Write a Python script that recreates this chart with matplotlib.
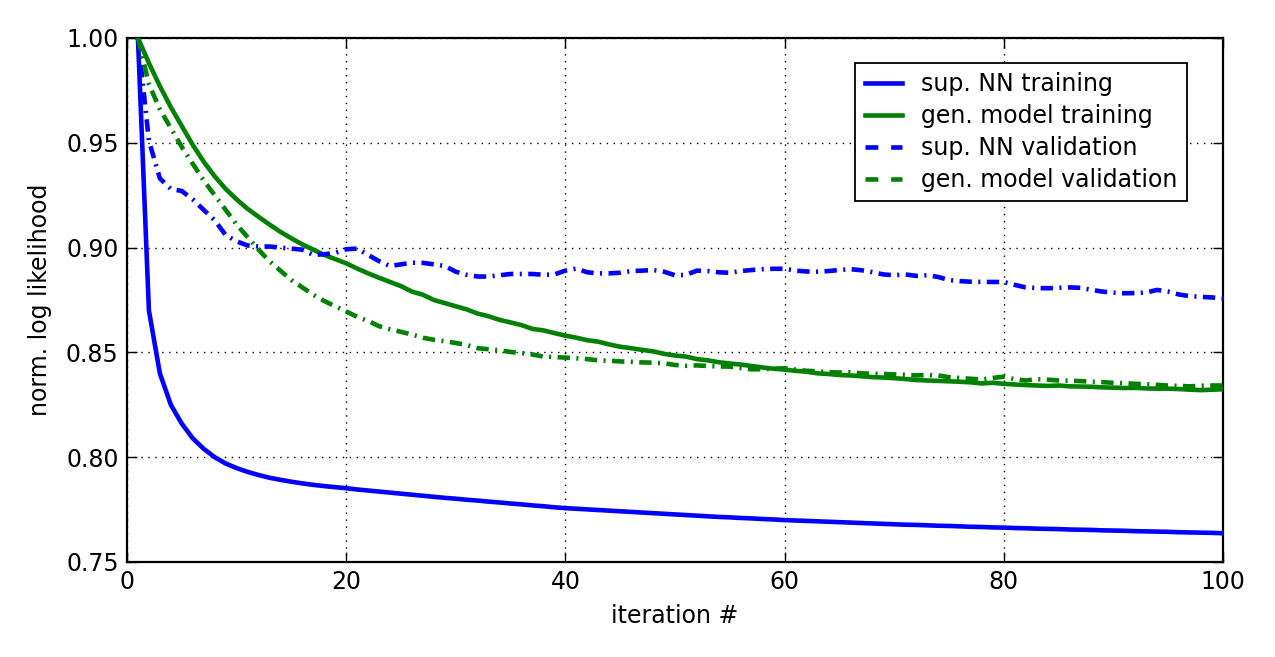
import matplotlib
matplotlib.use("Agg")
import matplotlib.pyplot as plt
from matplotlib.lines import Line2D

iterations = list(range(1, 101))

sup_nn_training = [
    1.000, 0.870, 0.840, 0.825, 0.816, 0.809, 0.804, 0.800, 0.797, 0.7948,
    0.7930, 0.7915, 0.7902, 0.7892, 0.7883, 0.7875, 0.7868, 0.7862, 0.7857, 0.7852,
    0.7846, 0.7841, 0.7836, 0.7831, 0.7826, 0.7821, 0.7816, 0.7811, 0.7806, 0.7802,
    0.7797, 0.7793, 0.7788, 0.7784, 0.7779, 0.7775, 0.7770, 0.7766, 0.7761, 0.7757,
    0.7754, 0.7751, 0.7748, 0.7745, 0.7742, 0.7739, 0.7736, 0.7733, 0.7730, 0.7727,
    0.7724, 0.7721, 0.7718, 0.7715, 0.7713, 0.7710, 0.7708, 0.7705, 0.7703, 0.7700,
    0.7698, 0.7696, 0.7694, 0.7692, 0.7690, 0.7688, 0.7686, 0.7684, 0.7682, 0.7680,
    0.7678, 0.7677, 0.7675, 0.7673, 0.7672, 0.7670, 0.7668, 0.7667, 0.7665, 0.7664,
    0.7662, 0.7661, 0.7659, 0.7658, 0.7657, 0.7655, 0.7654, 0.7653, 0.7651, 0.7650,
    0.7649, 0.7647, 0.7646, 0.7645, 0.7644, 0.7642, 0.7641, 0.7640, 0.7639, 0.7637,
]

gen_model_training = [
    1.000, 0.988, 0.977, 0.967, 0.958, 0.949, 0.941, 0.934, 0.928, 0.923,
    0.9185, 0.9147, 0.911, 0.9075, 0.9044, 0.9015, 0.899, 0.8965, 0.8945, 0.8925,
    0.8900, 0.8877, 0.8856, 0.8836, 0.8816, 0.8790, 0.8775, 0.8750, 0.8735, 0.8720,
    0.8705, 0.8685, 0.8672, 0.8655, 0.8643, 0.8630, 0.8612, 0.8605, 0.8592, 0.8580,
    0.8570, 0.8558, 0.8551, 0.8538, 0.8527, 0.8520, 0.8512, 0.8505, 0.8493, 0.8485,
    0.8480, 0.8468, 0.8462, 0.8453, 0.8447, 0.8442, 0.8435, 0.8428, 0.8422, 0.8418,
    0.8412, 0.8408, 0.8400, 0.8397, 0.8392, 0.8390, 0.8386, 0.8382, 0.8380, 0.8377,
    0.8373, 0.8368, 0.8366, 0.8364, 0.8362, 0.8360, 0.8357, 0.8352, 0.8355, 0.8350,
    0.8347, 0.8344, 0.8342, 0.8340, 0.8342, 0.8338, 0.8337, 0.8336, 0.8333, 0.8332,
    0.8330, 0.8331, 0.8328, 0.8327, 0.8327, 0.8325, 0.8322, 0.8320, 0.8322, 0.8324,
]

sup_nn_validation = [
    1.000, 0.951, 0.933, 0.928, 0.927, 0.923, 0.918, 0.913, 0.906, 0.903,
    0.901, 0.9005, 0.9005, 0.9000, 0.8995, 0.899, 0.8965, 0.8968, 0.8975, 0.8992,
    0.8995, 0.8965, 0.8935, 0.8912, 0.8920, 0.8928, 0.8927, 0.8920, 0.8912, 0.8885,
    0.8870, 0.8862, 0.8862, 0.8868, 0.8874, 0.8874, 0.8874, 0.8870, 0.8872, 0.8890,
    0.8900, 0.8882, 0.8877, 0.8877, 0.8880, 0.8888, 0.8890, 0.8893, 0.8885, 0.8868,
    0.8870, 0.8890, 0.8888, 0.8882, 0.8880, 0.8888, 0.8893, 0.8897, 0.8899, 0.8899,
    0.8890, 0.8886, 0.8885, 0.8888, 0.8893, 0.8897, 0.8892, 0.8883, 0.8872, 0.8868,
    0.8872, 0.8865, 0.8868, 0.8860, 0.8845, 0.8840, 0.8837, 0.8836, 0.8836, 0.8836,
    0.8822, 0.8810, 0.8807, 0.8806, 0.8808, 0.8810, 0.8808, 0.8798, 0.8790, 0.8785,
    0.8782, 0.8783, 0.8786, 0.8798, 0.8790, 0.8776, 0.8768, 0.8765, 0.8762, 0.8758,
]

gen_model_validation = [
    1.000, 0.978, 0.966, 0.957, 0.948, 0.940, 0.932, 0.925, 0.918, 0.911,
    0.905, 0.899, 0.8935, 0.889, 0.8845, 0.881, 0.8775, 0.8745, 0.872, 0.8695,
    0.867, 0.865, 0.8625, 0.8610, 0.8598, 0.8585, 0.8570, 0.8560, 0.8553, 0.8545,
    0.8535, 0.8520, 0.8515, 0.8510, 0.8502, 0.8497, 0.8490, 0.8480, 0.8478, 0.8475,
    0.8472, 0.8468, 0.8462, 0.8460, 0.8457, 0.8455, 0.8452, 0.8451, 0.8448, 0.8440,
    0.8436, 0.8438, 0.8435, 0.8433, 0.8432, 0.8425, 0.8419, 0.8420, 0.8422, 0.8424,
    0.8418, 0.8412, 0.8410, 0.8406, 0.8404, 0.8405, 0.8400, 0.8398, 0.8397, 0.8395,
    0.8393, 0.8390, 0.8392, 0.8390, 0.8382, 0.8378, 0.8374, 0.8371, 0.8378, 0.8384,
    0.8372, 0.8366, 0.8372, 0.8370, 0.8366, 0.8365, 0.8363, 0.8360, 0.8358, 0.8355,
    0.8353, 0.8350, 0.8348, 0.8345, 0.8342, 0.8340, 0.8338, 0.8341, 0.8342, 0.8342,
]

labels = ["sup. NN training", "gen. model training",
          "sup. NN validation", "gen. model validation"]
x_ticks = [0, 20, 40, 60, 80, 100]
y_ticks = [0.75, 0.80, 0.85, 0.90, 0.95, 1.00]

plt.rcParams['font.family'] = ['DejaVu Sans']
fig = plt.figure(figsize=(12.75, 6.57), dpi=100)
ax = fig.add_axes([0.0996, 0.1446, 0.8596, 0.7976])

BLUE = "#0000ff"
GREEN = "#008000"
LW = 3.3
dd = (2.7, 1.4, 0.45, 1.4)

ax.plot(iterations, sup_nn_training, color=BLUE, lw=LW, zorder=3)
ax.plot(iterations, gen_model_training, color=GREEN, lw=LW, zorder=3)
ax.plot(iterations, sup_nn_validation, color=BLUE, lw=LW, dashes=dd, zorder=3)
ax.plot(iterations, gen_model_validation, color=GREEN, lw=LW, dashes=dd, zorder=3)

ax.set_xlim(0, 100)
ax.set_ylim(0.75, 1.00)
ax.set_xticks(x_ticks)
ax.set_xticklabels([str(t) for t in x_ticks])
ax.set_yticks(y_ticks)
ax.set_yticklabels([f"{t:.2f}" for t in y_ticks])
ax.tick_params(direction='in', length=7, width=1, top=True, right=True,
               labelsize=17, pad=6)
ax.grid(True, color='black', linestyle=(0, (1, 4)), linewidth=1.0)
for s in ax.spines.values():
    s.set_linewidth(1.6)

ax.set_xlabel("iteration #", fontsize=17, labelpad=7)
ax.set_ylabel("norm. log likelihood", fontsize=17, labelpad=10)

handles = [
    Line2D([], [], color=BLUE, lw=LW),
    Line2D([], [], color=GREEN, lw=LW),
    Line2D([], [], color=BLUE, lw=LW, dashes=(2.8, 2.8)),
    Line2D([], [], color=GREEN, lw=LW, dashes=(2.8, 2.8)),
]
leg = ax.legend(handles, labels, loc='upper right', fontsize=17,
                bbox_to_anchor=(0.9672, 0.9523), borderaxespad=0.0,
                fancybox=False, handlelength=1.6, handletextpad=0.8,
                borderpad=0.4, labelspacing=0.33, framealpha=1.0)
leg.get_frame().set_edgecolor('black')
leg.get_frame().set_linewidth(1.3)

fig.savefig("out.png", dpi=100)
